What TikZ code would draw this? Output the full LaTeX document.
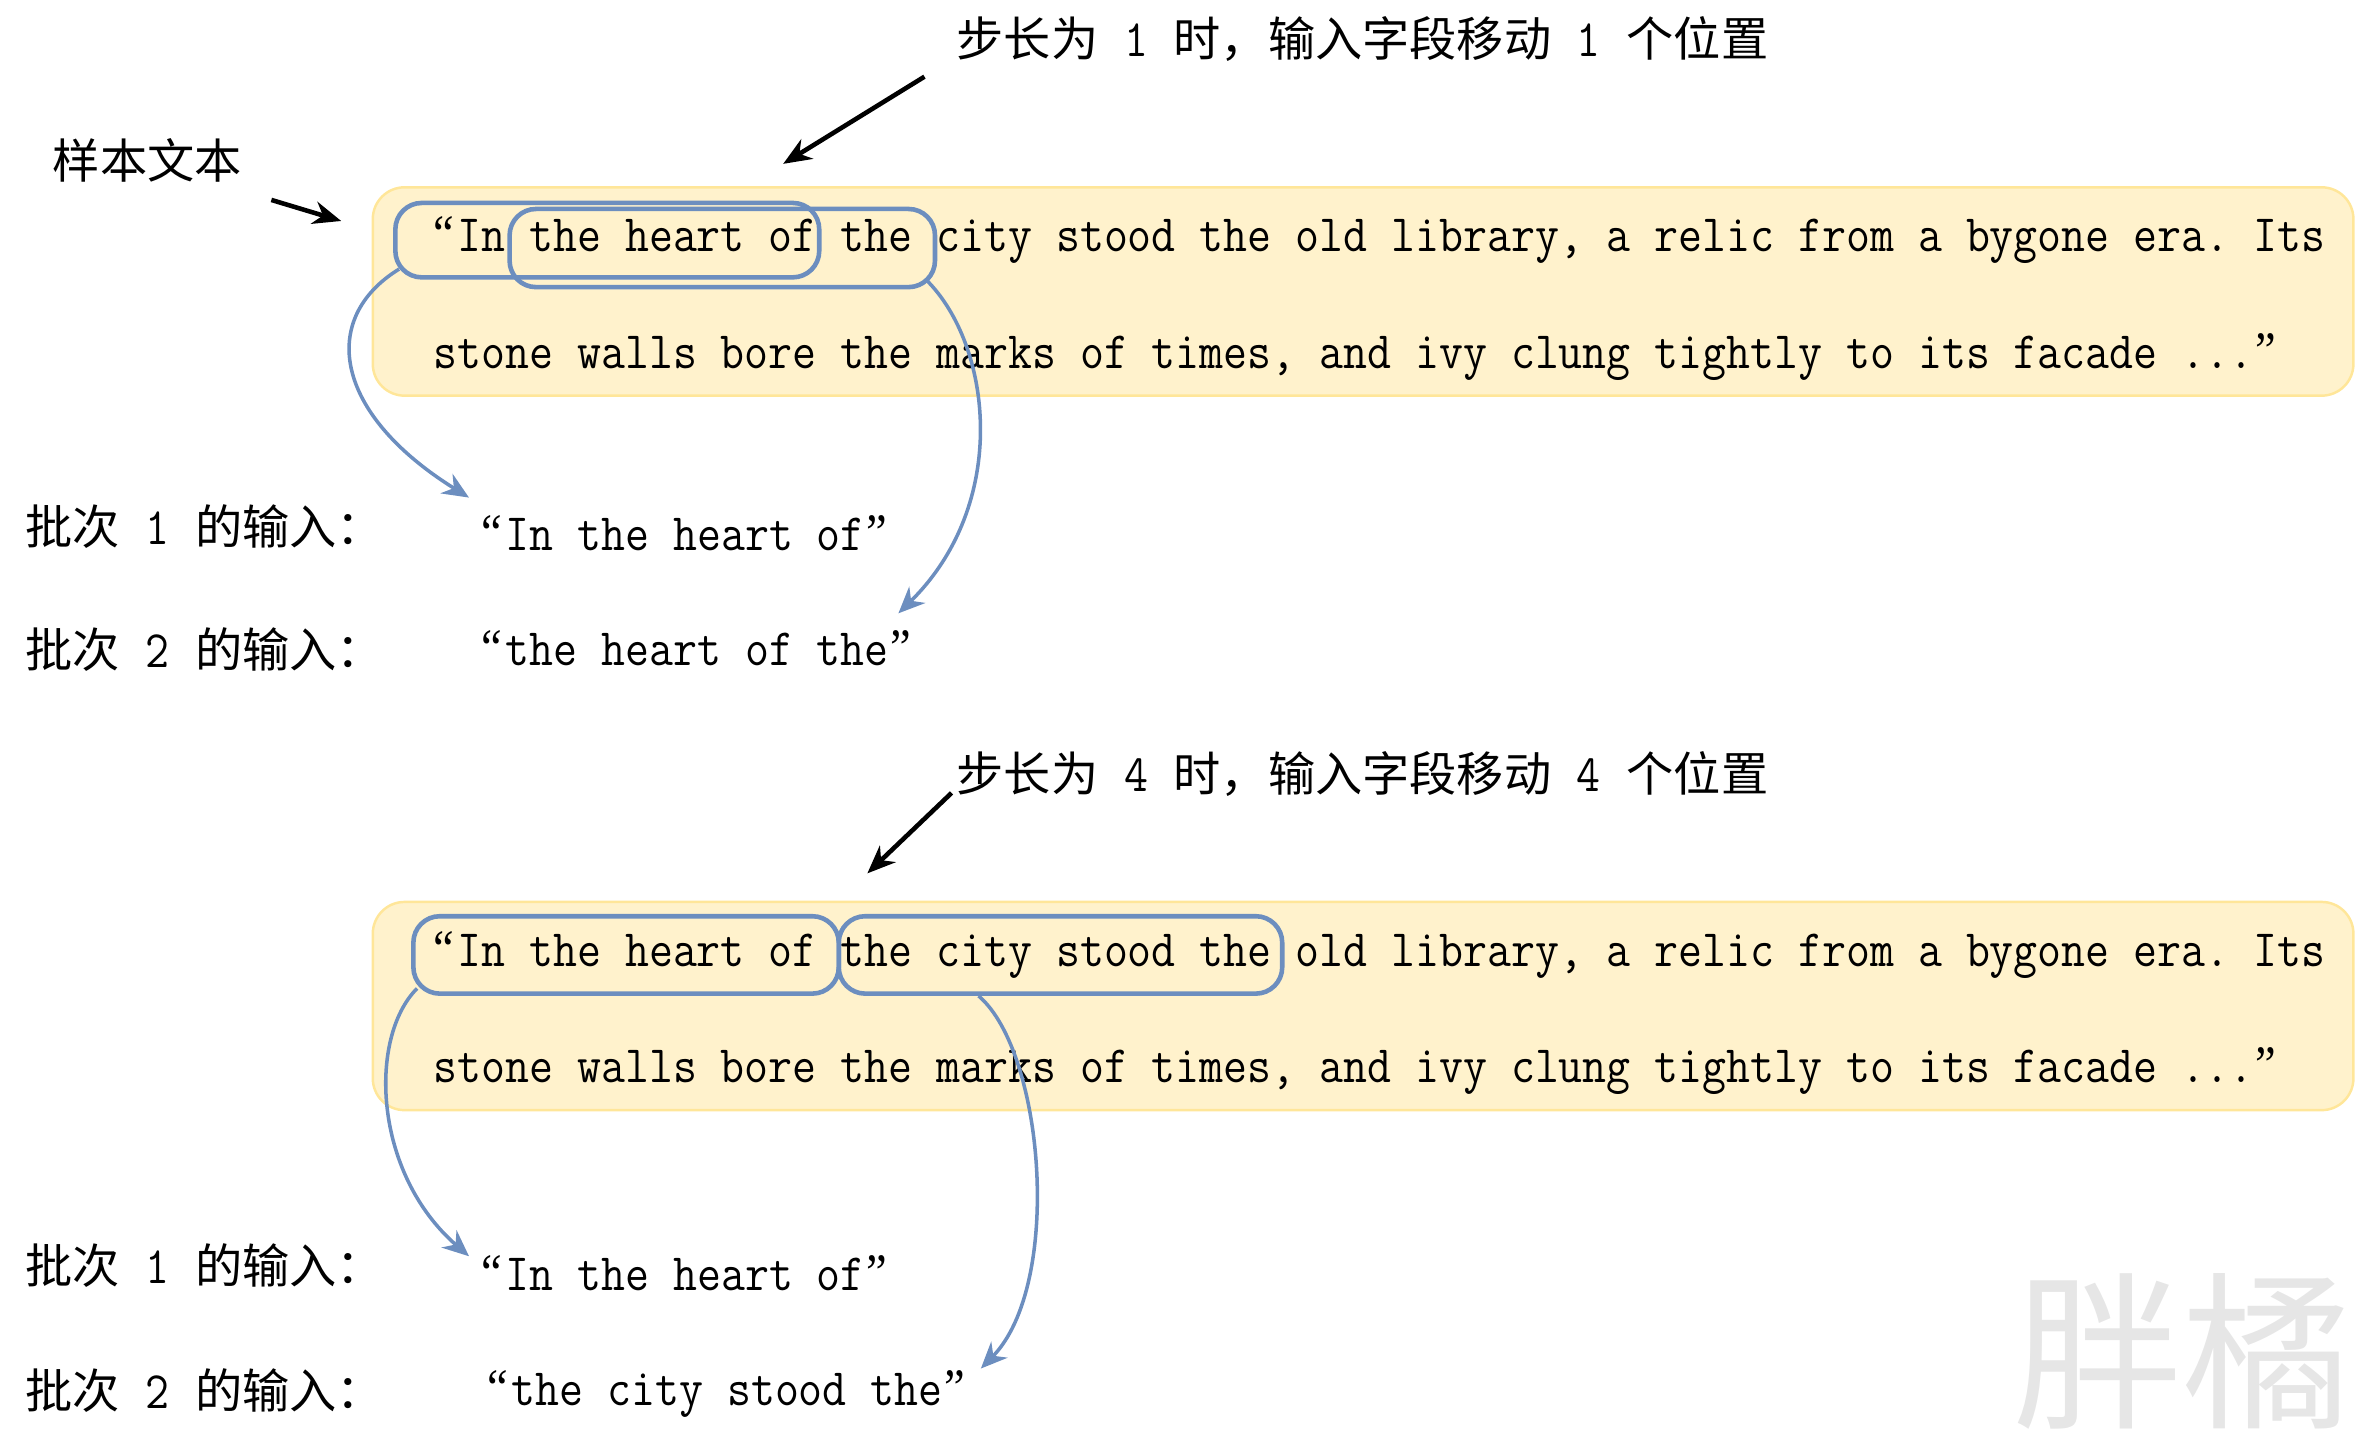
\documentclass[tikz,border=0pt]{standalone}
\usepackage{fontspec}
\setmainfont{Noto Sans CJK SC}
\newfontfamily\qf{Liberation Serif}
\usepackage{graphicx}
\usetikzlibrary{arrows.meta,fit}
\definecolor{panelfill}{HTML}{FFF2CC}
\definecolor{panelline}{HTML}{FFE699}
\definecolor{winblue}{HTML}{6C8EBF}
\definecolor{markgray}{HTML}{E6E6E6}
\newcommand\vst[1]{\scalebox{1}[1.13]{#1}}
\newcommand\oq{\makebox[\fontcharwd\font`a][l]{\qf “}}
\newcommand\cq{\makebox[\fontcharwd\font`a][c]{\qf ”}}
\newcommand\gp{\hspace{7.3pt}}
\newcommand\dg[1]{\gp{\ttfamily\fontsize{13.2}{15}\selectfont\vst{#1}}\gp}
\begin{document}
\begin{tikzpicture}[x=0.015cm,y=-0.015cm,
  en/.style={font=\fontsize{13.2}{15}\selectfont\ttfamily\frenchspacing, inner sep=0pt, anchor=base west},
  cn/.style={font=\fontsize{13.4}{16}\selectfont, inner sep=0pt, anchor=base west},
  panel/.style={draw=panelline, fill=panelfill, line width=0.7pt, rounded corners=9pt, inner sep=0pt},
  win/.style={draw=winblue, line width=1.3pt, rounded corners=7.5pt, inner sep=0pt},
  hop/.style={draw=winblue, line width=1pt, -{Stealth[length=7.5pt,width=6.5pt]}},
  pointer/.style={draw=black, line width=1.3pt, -{Stealth[length=8pt,width=6.5pt]}},
  wmark/.style={font=\fontsize{48}{50}\selectfont, text=markgray, inner sep=0pt}]
\useasboundingbox (0,0) rectangle (1568,957);

% panels
\node[panel, fit={(248,124.6) (1565.6,263.2)}] (p1) {};
\node[panel, fit={(248,600) (1565.6,738.5)}] (p2) {};

% sample text lines
\node[en] (t1a) at (288,167.5) {\vst{\oq In the heart of the city stood the old library, a relic from a bygone era. Its}};
\node[en] (t1b) at (288,245) {\vst{stone walls bore the marks of times, and ivy clung tightly to its facade ...\cq}};
\node[en] (t2a) at (288,643) {\vst{\oq In the heart of the city stood the old library, a relic from a bygone era. Its}};
\node[en] (t2b) at (288,720) {\vst{stone walls bore the marks of times, and ivy clung tightly to its facade ...\cq}};

% windows
\node[win, fit={(263,135) (545,184.5)}] (wA) {};
\node[win, fit={(339,139) (622,191)}] (wB) {};
\node[win, fit={(275,609.5) (558,661)}] (wC) {};
\node[win, fit={(558,609.5) (853,661)}] (wD) {};

% labels
\node[cn] (sample) at (34.7,118.5) {样本文本};
\node[cn] (step1) at (636,37.5) {步长为\dg{1}时，输入字段移动\dg{1}个位置};
\node[cn] (step4) at (636,526.5) {步长为\dg{4}时，输入字段移动\dg{4}个位置};

\node[cn] (lab1a) at (16.5,362) {批次\dg{1}的输入：};
\node[cn] (lab2a) at (16.5,444) {批次\dg{2}的输入：};
\node[cn] (lab1b) at (16.5,853.7) {批次\dg{1}的输入：};
\node[cn] (lab2b) at (16.5,936.8) {批次\dg{2}的输入：};

\node[en] (in1a) at (320,366) {\vst{\oq In the heart of\cq}};
\node[en] (in2a) at (320,442.4) {\vst{\oq the heart of the\cq}};
\node[en] (in1b) at (320,858.7) {\vst{\oq In the heart of\cq}};
\node[en] (in2b) at (324,934.8) {\vst{\oq the city stood the\cq}};

\node[wmark] (wm) at (1452,899) {胖橘};

% black pointers
\coordinate (tip1) at (521,109);
\coordinate (tip2) at (227,147);
\coordinate (tip3) at (577,581);
\draw[pointer] ([shift={(-21,13.5)}]step1.base west) -- (tip1);
\draw[pointer] ([shift={(19.3,14.5)}]sample.base east) -- (tip2);
\draw[pointer] ([shift={(-3,1)}]step4.base west) -- (tip3);

% blue hops
\draw[hop] ([shift={(4,-7)}]wA.south west) .. controls (212,212) and (222,275) .. ([shift={(-8,-35)}]in1a.base west);
\draw[hop] ([shift={(-7,-6)}]wB.south east) .. controls (660,230) and (672,335) .. ([shift={(-10,-34.4)}]in2a.base east);
\draw[hop] ([shift={(4,-5)}]wC.south west) .. controls (245,690) and (248,780) .. ([shift={(-8,-23)}]in1b.base west);
\draw[hop] ([shift={(-54.5,0)}]wD.south) .. controls (695,700) and (707,855) .. ([shift={(9,-24.4)}]in2b.base east);
\end{tikzpicture}
\end{document}
